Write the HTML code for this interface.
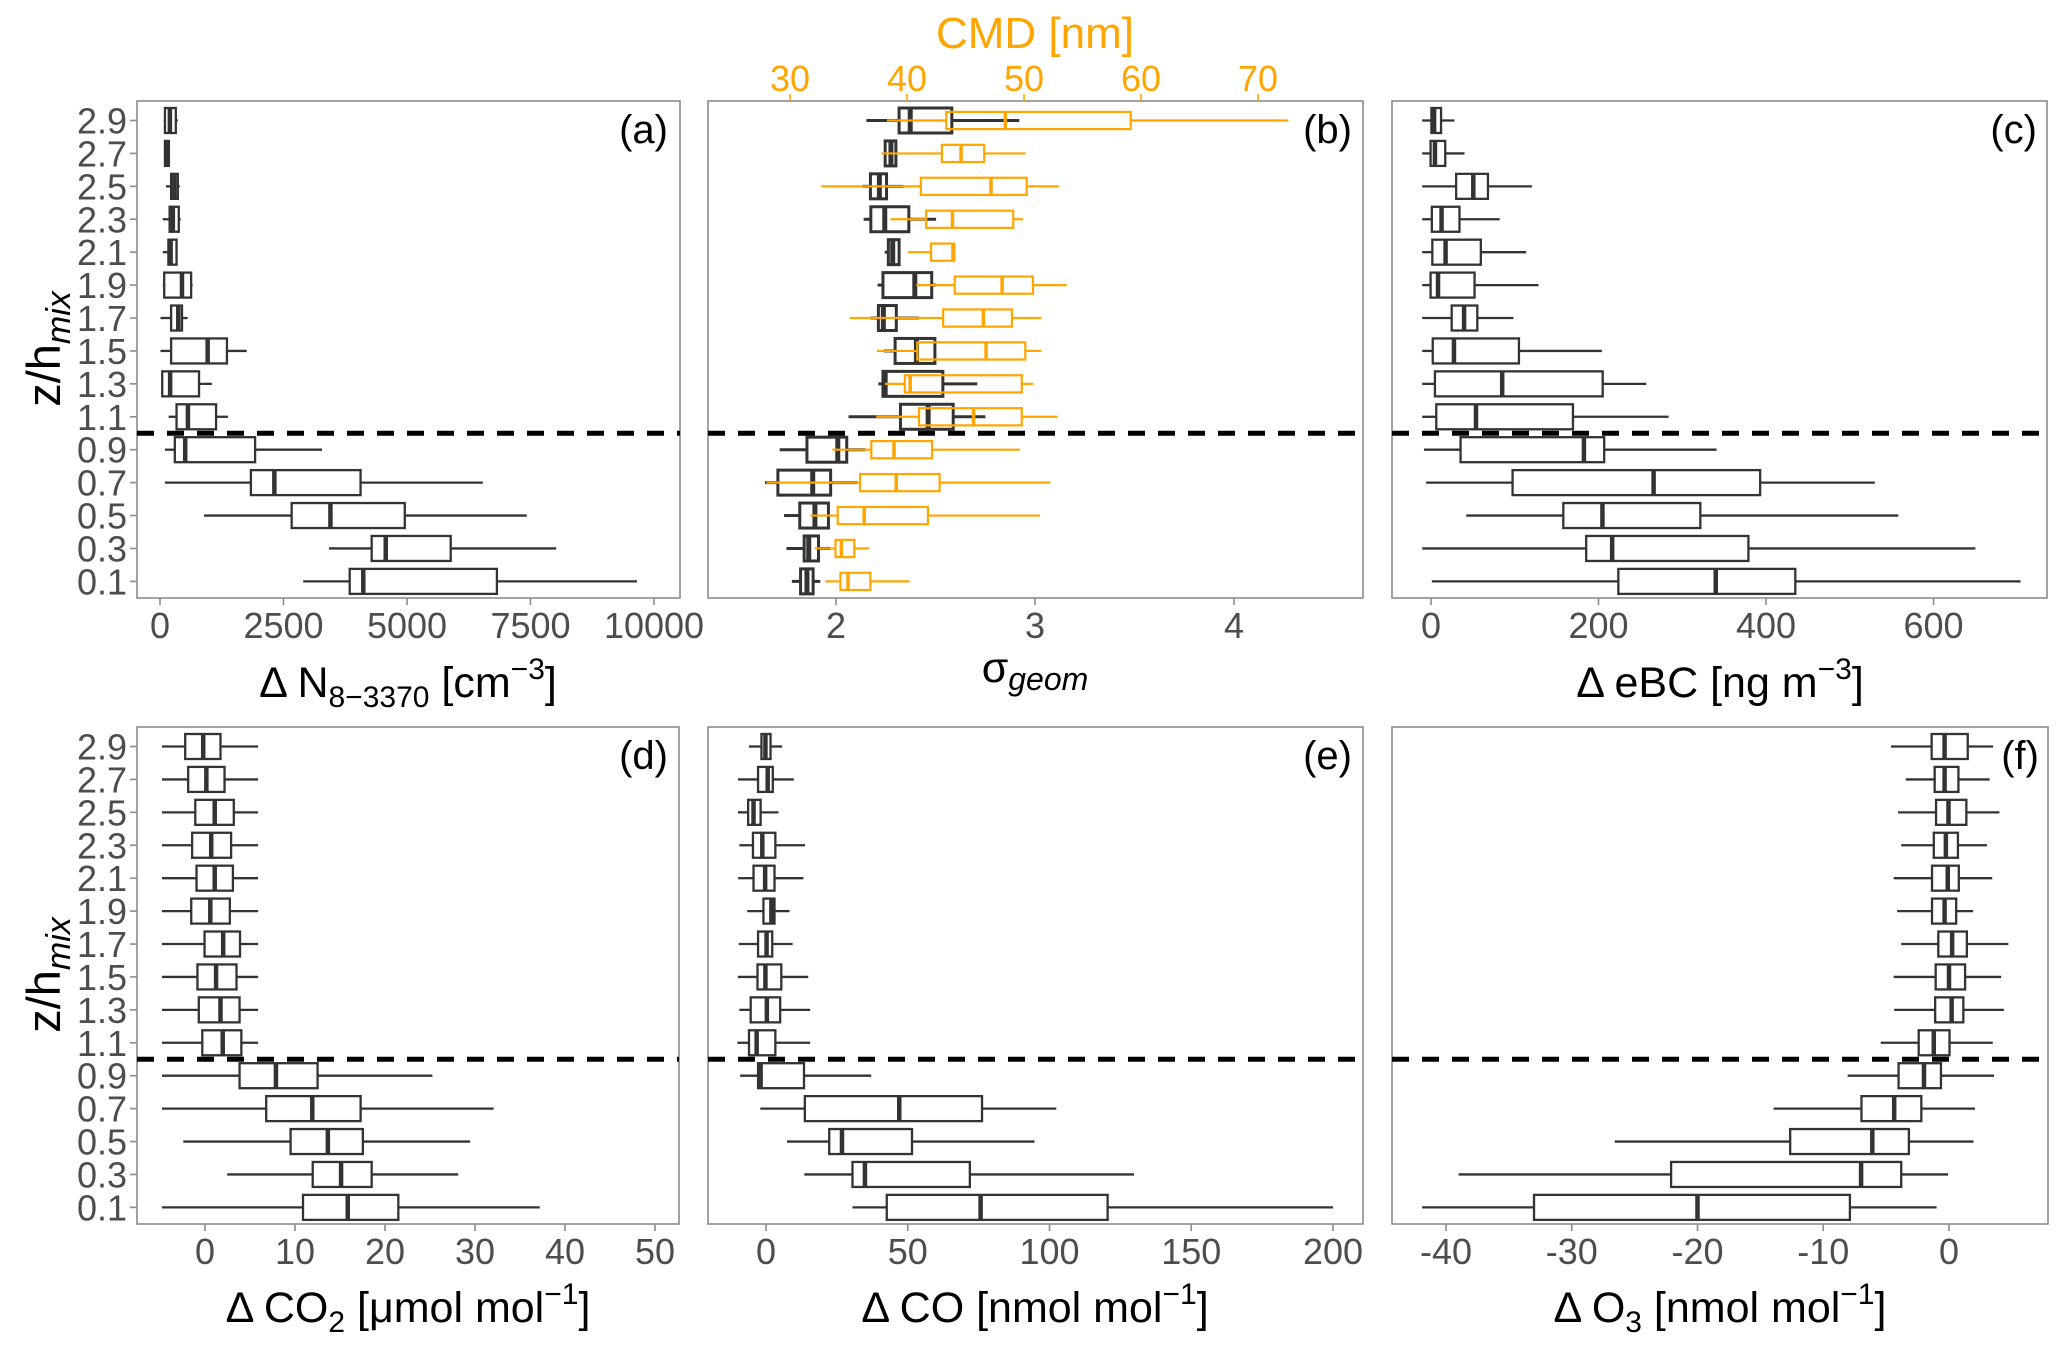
<!DOCTYPE html>
<html><head><meta charset="utf-8"><style>
html,body{margin:0;padding:0;background:#fff;}
svg{display:block;font-family:"Liberation Sans",Arial,sans-serif;}
</style></head><body>
<svg id="fig" width="2067" height="1351" viewBox="0 0 2067 1351" xmlns="http://www.w3.org/2000/svg">
<rect x="0" y="0" width="2067" height="1351" fill="#fff"/>
<g id="frames"></g>
<g id="marks"></g>
<g id="texts" fill="#4d4d4d" font-size="36">
</g>
</svg>
<script>
const categories=[0.1,0.3,0.5,0.7,0.9,1.1,1.3,1.5,1.7,1.9,2.1,2.3,2.5,2.7,2.9];
// (a) N8-3370
const aLo=[2900,3420,890,100,100,175,30,10,10,55,55,55,120,85,75];
const aQ1=[3840,4285,2665,1840,300,335,45,225,225,85,170,195,225,100,100];
const aMed=[4115,4570,3450,2315,510,565,205,965,370,445,215,260,290,130,200];
const aQ3=[6820,5885,4955,4060,1925,1135,790,1355,445,630,335,380,360,180,320];
const aHi=[9655,8020,7425,6535,3280,1375,1050,1755,560,660,355,420,400,200,360];
const aTicks=[0,2500,5000,7500,10000];
// (b) sigma geom
const sLo=[1.778,1.751,1.739,1.643,1.717,2.063,2.213,2.240,2.173,2.209,2.245,2.139,2.133,2.243,2.153];
const sQ1=[1.822,1.840,1.818,1.708,1.854,2.324,2.236,2.297,2.213,2.236,2.263,2.175,2.173,2.247,2.317];
const sMed=[1.854,1.863,1.894,1.883,2.009,2.463,2.247,2.404,2.238,2.396,2.285,2.245,2.218,2.276,2.373];
const sQ3=[1.885,1.912,1.962,1.973,2.054,2.589,2.537,2.497,2.303,2.481,2.317,2.366,2.254,2.301,2.582];
const sHi=[1.921,1.971,1.966,2.106,2.148,2.751,2.710,2.501,2.416,2.503,2.317,2.503,2.339,2.303,2.921];
const sTicks=[2,3,4];
// (b) CMD
const cmdLo=[33.02,32.10,31.76,27.98,33.63,37.37,38.13,37.44,35.11,40.80,40.08,38.59,32.67,37.82,38.28];
const cmdQ1=[34.31,33.89,34.08,35.99,36.95,41.03,39.81,40.88,43.09,44.08,42.06,41.64,41.18,42.98,43.36];
const cmdMed=[34.96,34.39,36.34,39.08,38.89,45.69,40.27,46.76,46.53,48.13,43.93,43.89,47.18,44.62,48.40];
const cmdQ3=[36.87,35.50,41.79,42.79,42.14,49.81,49.81,50.11,48.97,50.76,44.05,49.08,50.23,46.6,59.12];
const cmdHi=[40.23,36.76,51.37,52.25,49.66,52.86,50.80,51.49,51.49,53.66,44.05,49.92,52.98,50.15,72.6];
const cmdTicks=[30,40,50,60,70];
// (c) eBC
const cLo=[1,-10.5,42.1,-5.8,-8.4,-10.5,-10.5,-10.5,-10.5,-10.5,-10.5,-10.5,-10.5,-10.5,-10.5];
const cQ1=[223.7,185.3,158,97.4,35.3,6.3,4.7,2.1,24.7,-0.5,1.6,1,30,-0.5,0.5];
const cMed=[340,216.3,204.7,265.8,182.6,53.7,85,27.4,39.5,8.4,17.4,12.6,50.5,4.7,3.7];
const cQ3=[435,379,321.6,393,206.8,169.5,205,105,55.3,52,59.5,34,68,17,12];
const cHi=[704,650,558,530,341,283.7,257,204,98.4,128.4,113.7,82,120.5,40,28];
const cTicks=[0,200,400,600];
// (d) CO2
const dLo=[-4.78,2.46,-2.41,-4.78,-4.78,-4.78,-4.78,-4.78,-4.78,-4.78,-4.78,-4.78,-4.78,-4.78,-4.78];
const dQ1=[10.89,11.97,9.51,6.8,3.84,-0.3,-0.69,-0.84,-0.05,-1.53,-0.94,-1.43,-1.08,-1.87,-2.2];
const dMed=[15.86,15.12,13.65,11.92,7.88,1.97,1.72,1.23,2.02,0.59,1.08,0.69,1.08,0.15,-0.2];
const dQ3=[21.48,18.52,17.54,17.29,12.51,4.04,3.84,3.5,3.89,2.76,3.1,2.9,3.2,2.17,1.72];
const dHi=[37.19,28.13,29.46,32.07,25.27,5.9,5.9,5.9,5.9,5.9,5.9,5.9,5.9,5.9,5.9];
const dTicks=[0,10,20,30,40,50];
// (e) CO
const eLo=[30.5,13.5,7.4,-2,-9.1,-10.1,-9.4,-9.9,-9.6,-6.6,-9.8,-9.4,-9.9,-9.9,-6];
const eQ1=[42.6,30.5,22.3,13.7,-2.8,-6,-5.4,-3,-2.8,-0.9,-4.4,-4.6,-6.3,-2.8,-1.6];
const eMed=[75.7,34.9,26.8,47,-1.9,-3.3,0.3,-0.2,0.2,1.9,-0.3,-1.3,-4.4,0.6,-0.2];
const eQ3=[120.5,71.9,51.5,76.2,13.4,3.3,5,5.4,2.2,3,3,3.3,-1.9,2.4,1.6];
const eHi=[200,129.8,94.7,102.4,37.1,15.6,15.6,14.9,9.4,8.3,13.2,13.8,4.4,9.8,5.7];
const eTicks=[0,50,100,150,200];
// (f) O3
const fLo=[-41.9,-39,-26.58,-13.95,-8.06,-5.43,-4.36,-4.4,-3.8,-4.12,-4.4,-3.8,-4.05,-3.44,-4.61];
const fQ1=[-33,-22.1,-12.63,-6.96,-4.01,-2.41,-1.1,-1.06,-0.85,-1.35,-1.35,-1.21,-1.03,-1.14,-1.38];
const fMed=[-20,-6.99,-6.1,-4.36,-1.99,-1.21,0.21,0,0.25,-0.35,-0.1,-0.25,-0.04,-0.35,-0.35];
const fQ3=[-7.88,-3.8,-3.19,-2.2,-0.64,0.04,1.14,1.28,1.42,0.57,0.78,0.71,1.38,0.75,1.49];
const fHi=[-0.99,-0.07,1.95,2.06,3.58,3.48,4.36,4.15,4.72,1.92,3.44,3.02,4.01,3.23,3.51];
const fTicks=[-40,-30,-20,-10,0];
const yTicks=[0.1,0.3,0.5,0.7,0.9,1.1,1.3,1.5,1.7,1.9,2.1,2.3,2.5,2.7,2.9];

const NS="http://www.w3.org/2000/svg";
const frames=document.getElementById('frames');
const marks=document.getElementById('marks');
const texts=document.getElementById('texts');
function el(tag,attrs,parent){const e=document.createElementNS(NS,tag);for(const k in attrs)e.setAttribute(k,attrs[k]);parent.appendChild(e);return e;}
function lin(v0,p0,v1,p1){return v=>p0+(v-v0)*(p1-p0)/(v1-v0);}
function yScale(off){return v=>120.5+(2.9-v)*164.6+off;}

const panels=[
 {id:'a',x0:137,x1:680,off:0,sx:lin(0,160,10000,654),ticks:aTicks,series:[[aLo,aQ1,aMed,aQ3,aHi]],ylabels:true},
 {id:'b',x0:708,x1:1363,off:0,sx:lin(2,836,3,1035),ticks:sTicks,series:[[sLo,sQ1,sMed,sQ3,sHi]],ylabels:false},
 {id:'c',x0:1392,x1:2047,off:0,sx:lin(0,1431,600,1933.5),ticks:cTicks,series:[[cLo,cQ1,cMed,cQ3,cHi]],ylabels:false},
 {id:'d',x0:137,x1:679,off:626,sx:lin(0,205,50,655),ticks:dTicks,series:[[dLo,dQ1,dMed,dQ3,dHi]],ylabels:true},
 {id:'e',x0:708,x1:1363,off:626,sx:lin(0,766,200,1333),ticks:eTicks,series:[[eLo,eQ1,eMed,eQ3,eHi]],ylabels:false},
 {id:'f',x0:1392,x1:2048,off:626,sx:lin(-40,1446,0,1949),ticks:fTicks,series:[[fLo,fQ1,fMed,fQ3,fHi]],ylabels:false}
];
const cmdX=lin(30,790,70,1258);

function drawBoxes(g,sx,sy,arrs,color,half,sw,mw,name){
  const [lo,q1,med,q3,hi]=arrs;
  categories.forEach((c,i)=>{
    const y=sy(c);
    const bg=el('g',{},g);
    
    
    el('line',{x1:sx(lo[i]),x2:sx(q1[i]),y1:y,y2:y,stroke:color,'stroke-width':sw},bg);
    el('line',{x1:sx(q3[i]),x2:sx(hi[i]),y1:y,y2:y,stroke:color,'stroke-width':sw},bg);
    el('rect',{x:sx(q1[i]),y:y-half,width:Math.max(0.5,sx(q3[i])-sx(q1[i])),height:2*half,fill:'none',stroke:color,'stroke-width':sw},bg);
    el('line',{x1:sx(med[i]),x2:sx(med[i]),y1:y-half,y2:y+half,stroke:color,'stroke-width':mw},bg);
  });
}

panels.forEach(p=>{
  const top=101+p.off,bot=598+p.off;
  const sy=yScale(p.off);
  const fr=el('rect',{x:p.x0,y:top,width:p.x1-p.x0,height:bot-top,fill:'#fff',stroke:'#8c8c8c','stroke-width':1.6},frames);
  
  
  const g=el('g',{},marks);
  
  
  drawBoxes(g,p.sx,sy,p.series[0],'#333333',12.5,p.id==='b'?3:2.3,p.id==='b'?5:4.5,'box-'+p.id);
  if(p.id==='b'){
    const go=el('g',{},marks);
    
    
    drawBoxes(go,cmdX,sy,[cmdLo,cmdQ1,cmdMed,cmdQ3,cmdHi],'#FFA500',8.6,2.2,3.5,'cmd-box');
  }
  const dl=el('line',{x1:p.x0,x2:p.x1,y1:sy(1.0),y2:sy(1.0),stroke:'#000','stroke-width':5,'stroke-dasharray':'17 13'},marks);
  
  
  p.ticks.forEach(t=>{
    const x=p.sx(t);
    el('line',{x1:x,x2:x,y1:bot,y2:bot+7,stroke:'#8c8c8c','stroke-width':1.6},frames);
    const tx=el('text',{x:x,y:bot+40,'text-anchor':'middle'},texts);
    tx.textContent=String(t);
    
    
  });
  if(p.ylabels){
    yTicks.forEach(t=>{
      const y=sy(t);
      el('line',{x1:p.x0-7,x2:p.x0,y1:y,y2:y,stroke:'#8c8c8c','stroke-width':1.6},frames);
      const tx=el('text',{x:p.x0-10,y:y+13,'text-anchor':'end'},texts);
      tx.textContent=t.toFixed(1);
      
      
    });
  }
});
cmdTicks.forEach(t=>{
  const x=cmdX(t);
  el('line',{x1:x,x2:x,y1:94,y2:101,stroke:'#FFA500','stroke-width':1.6},frames);
  const tx=el('text',{x:x,y:91,'text-anchor':'middle',fill:'#FFA500'},texts);
  tx.textContent=String(t);
  
  
});
</script>
<script>
const T=document.getElementById('fig');
function addText(str,attrs,name){const t=document.createElementNS(NS,'text');for(const k in attrs)t.setAttribute(k,attrs[k]);t.innerHTML=str;T.appendChild(t);return t;}
addText('(a)',{x:668,y:143,'text-anchor':'end','font-size':40,fill:'#000'},'panel-label-a');
addText('(b)',{x:1352,y:143,'text-anchor':'end','font-size':40,fill:'#000'},'panel-label-b');
addText('(c)',{x:2037,y:143,'text-anchor':'end','font-size':40,fill:'#000'},'panel-label-c');
addText('(d)',{x:668,y:769,'text-anchor':'end','font-size':40,fill:'#000'},'panel-label-d');
addText('(e)',{x:1352,y:769,'text-anchor':'end','font-size':40,fill:'#000'},'panel-label-e');
addText('(f)',{x:2039,y:769,'text-anchor':'end','font-size':40,fill:'#000'},'panel-label-f');
addText('Δ N<tspan font-size="30" dy="10">8−3370</tspan><tspan dy="-10"> [cm</tspan><tspan font-size="30" dy="-18">−3</tspan><tspan dy="18">]</tspan>',{x:408,y:697,'text-anchor':'middle','font-size':43,fill:'#000'},'x-axis-title-a');
addText('σ<tspan font-size="32" font-style="italic" dy="8">geom</tspan>',{x:1035,y:682,'text-anchor':'middle','font-size':43,fill:'#000'},'x-axis-title-b');
addText('Δ eBC [ng m<tspan font-size="30" dy="-18">−3</tspan><tspan dy="18">]</tspan>',{x:1720,y:697,'text-anchor':'middle','font-size':43,fill:'#000'},'x-axis-title-c');
addText('Δ CO<tspan font-size="30" dy="10">2</tspan><tspan dy="-10"> [μmol mol</tspan><tspan font-size="30" dy="-18">−1</tspan><tspan dy="18">]</tspan>',{x:408,y:1322,'text-anchor':'middle','font-size':43,fill:'#000'},'x-axis-title-d');
addText('Δ CO [nmol mol<tspan font-size="30" dy="-18">−1</tspan><tspan dy="18">]</tspan>',{x:1035,y:1322,'text-anchor':'middle','font-size':43,fill:'#000'},'x-axis-title-e');
addText('Δ O<tspan font-size="30" dy="10">3</tspan><tspan dy="-10"> [nmol mol</tspan><tspan font-size="30" dy="-18">−1</tspan><tspan dy="18">]</tspan>',{x:1720,y:1322,'text-anchor':'middle','font-size':43,fill:'#000'},'x-axis-title-f');
addText('CMD [nm]',{x:1035,y:48,'text-anchor':'middle','font-size':44,fill:'#FFA500'},'cmd-axis-title');
addText('z/h<tspan font-size="34" font-style="italic" dy="10">mix</tspan>',{x:0,y:0,'text-anchor':'middle','font-size':47,fill:'#000',transform:'translate(60,349) rotate(-90)'},'y-axis-title-top');
addText('z/h<tspan font-size="34" font-style="italic" dy="10">mix</tspan>',{x:0,y:0,'text-anchor':'middle','font-size':47,fill:'#000',transform:'translate(60,975) rotate(-90)'},'y-axis-title-bottom');
</script>
</body></html>
